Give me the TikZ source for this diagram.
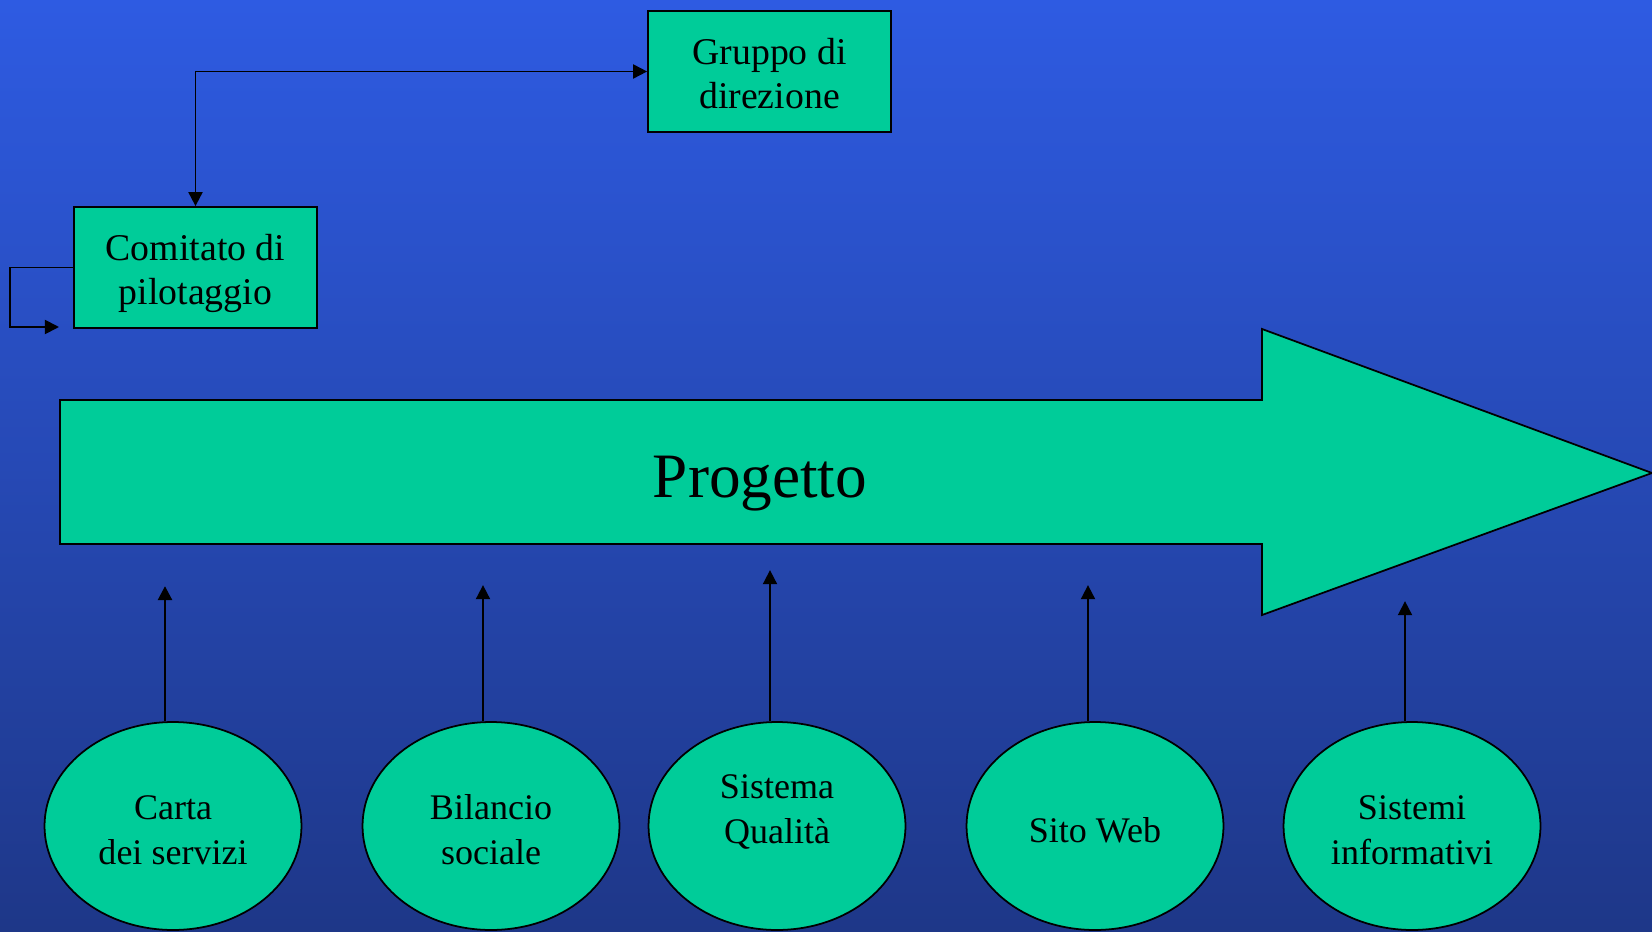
\documentclass[tikz,border=0pt]{standalone}
\usepackage{fontspec}
\setmainfont{Liberation Serif}
\usepackage{xcolor}
\usepackage{tikz}
\usetikzlibrary{arrows.meta,shapes.geometric}

\definecolor{bgtop}{RGB}{46,91,226}
\definecolor{bgbottom}{RGB}{30,55,136}
\definecolor{tealgreen}{RGB}{0,204,153}

\tikzset{
  box/.style={draw=black,fill=tealgreen,line width=1pt,minimum width=4.86cm,minimum height=2.42cm,inner sep=0pt,align=center,font=\fontsize{21.5}{25}\selectfont,text height=46.5pt},
  lbl/.style={align=center,font=\fontsize{20.5}{25.5}\selectfont,text height=44.3pt},
  oval/.style={lbl,ellipse,draw=black,fill=tealgreen,line width=1pt,minimum width=5.14cm,minimum height=4.16cm,inner sep=0pt},
  link/.style={line width=1.05pt,black,-{Triangle[length=8pt,width=8pt]}},
}

\begin{document}
\begin{tikzpicture}[x=0.02cm,y=0.02cm]
  \useasboundingbox (0,0) rectangle (1652,931);
  \shade[top color=bgtop,bottom color=bgbottom] (0,0) rectangle (1652,931);

  % big arrow
  \draw[fill=tealgreen,line width=1pt,line join=miter]
    (60,531) -- (1262,531) -- (1262,602) -- (1652,458) -- (1262,316) -- (1262,387) -- (60,387) -- cycle;
  \node[anchor=base,font=\fontsize{36}{40}\selectfont] (progetto) at (760,434) {Progetto};

  % boxes
  \node[box,text height=42.5pt] (gruppo) at (769.5,859.5) {Gruppo di\\direzione};
  \node[box] (comitato) at (195.5,663.5) {Comitato di\\pilotaggio};
  \draw[link,{Triangle[length=8pt,width=8pt]}-{Triangle[length=8pt,width=8pt]}] (comitato.north) |- (gruppo.west);
  \coordinate (loopend) at (59,604);
  \draw[link] (comitato.west) -- ++(-63,0) |- (loopend);

  % ellipses
  \node[oval] (carta) at (173,105) {Carta\\dei servizi};
  \node[oval] (bilancio) at (491,105) {Bilancio\\sociale};
  \node[oval] (qualita) at (777,105) {};
  \node[lbl] (qualitatxt) at ([yshift=0.38cm]qualita.center) {Sistema\\Qualità};
  \node[oval,text height=19pt] (sito) at (1095,105) {Sito Web};
  \node[oval] (sistemi) at (1412,105) {Sistemi\\informativi};

  \draw[link,line width=1.5pt] ([xshift=-0.16cm]carta.north) -- ++(0,135);
  \draw[link] ([xshift=-0.16cm]bilancio.north) -- ++(0,136);
  \draw[link] ([xshift=-0.14cm]qualita.north) -- ++(0,151);
  \draw[link] ([xshift=-0.14cm]sito.north) -- ++(0,136);
  \draw[link] ([xshift=-0.14cm]sistemi.north) -- ++(0,120);
\end{tikzpicture}
\end{document}
